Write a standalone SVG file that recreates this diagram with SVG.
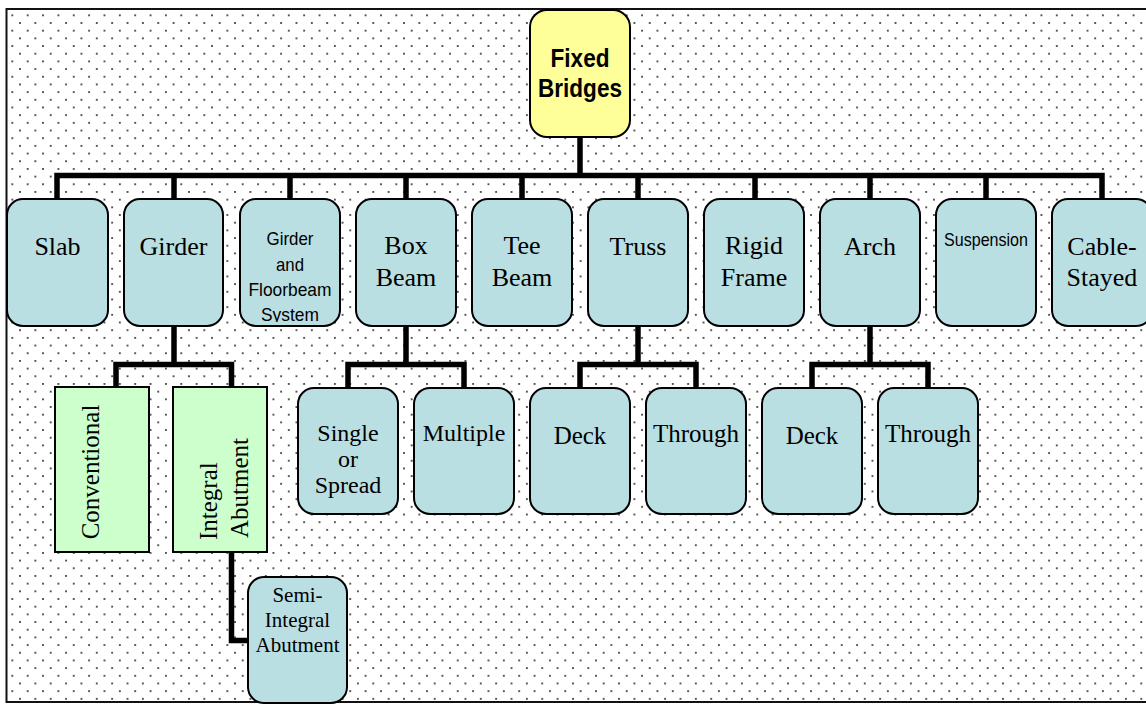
<svg xmlns="http://www.w3.org/2000/svg" width="1146" height="704" viewBox="0 0 1146 704">
<style>
.conn{fill:none;stroke:#000;stroke-width:5.5;stroke-linejoin:miter;stroke-linecap:butt}
.blue{fill:#BADFE3;stroke:#000;stroke-width:2}
.green{fill:#CCFFCC;stroke:#000;stroke-width:2}
.yellow{fill:#FFFF99;stroke:#000;stroke-width:2}
.serif{font-family:"Liberation Serif","Times New Roman",serif;fill:#000;text-anchor:middle}
.sans{font-family:"Liberation Sans",Arial,sans-serif;fill:#000;text-anchor:middle}
.t26{font-size:26px}
.t25{font-size:25px}
.t24{font-size:24px}
.t21{font-size:21px}
.n19{font-size:19px}
</style>
<defs>
<pattern id="dots" patternUnits="userSpaceOnUse" x="16.16" y="19.16" width="15.36" height="15.36">
<circle cx="3.84" cy="3.84" r="0.85" fill="#000"/>
<circle cx="11.52" cy="11.52" r="0.85" fill="#000"/>
</pattern>
<clipPath id="gfsclip"><rect x="240" y="199" width="100" height="123"/></clipPath>
</defs>
<rect x="0" y="0" width="1146" height="704" fill="#fff"/>
<rect x="6.5" y="9" width="1145" height="693" fill="url(#dots)" stroke="#111" stroke-width="2"/>

<g id="connectors">
<path class="conn" d="M580,137 V175.5"/>
<path class="conn" d="M57,199 V175.5 H1102 V199"/>
<path class="conn" d="M174,175.5 V199 M290,175.5 V199 M406,175.5 V199 M522,175.5 V199 M638,175.5 V199 M755,175.5 V199 M870,175.5 V199 M986,175.5 V199"/>
<path class="conn" d="M174,326 V364.5"/>
<path class="conn" d="M116,387 V364.5 H231.5 V387"/>
<path class="conn" d="M231.5,552 V640.5 H248"/>
<path class="conn" d="M406,326 V364.5"/>
<path class="conn" d="M348,388 V364.5 H464 V388"/>
<path class="conn" d="M638,326 V364.5"/>
<path class="conn" d="M580,388 V364.5 H696 V388"/>
<path class="conn" d="M870,326 V364.5"/>
<path class="conn" d="M812,388 V364.5 H928 V388"/>
</g>

<g id="fixed-bridges">
<rect class="yellow" x="530" y="10" width="100" height="127" rx="17"/>
<text class="sans" font-weight="bold" font-size="26" x="580" y="66.5" textLength="59" lengthAdjust="spacingAndGlyphs">Fixed</text>
<text class="sans" font-weight="bold" font-size="26" x="580" y="96.5" textLength="84" lengthAdjust="spacingAndGlyphs">Bridges</text>
</g>

<g id="slab">
<rect class="blue" x="7" y="199" width="101" height="127" rx="16"/>
<text class="serif t26" x="57.5" y="255">Slab</text>
</g>
<g id="girder">
<rect class="blue" x="124" y="199" width="99" height="127" rx="16"/>
<text class="serif t26" x="173.5" y="255">Girder</text>
</g>
<g id="girder-floorbeam">
<rect class="blue" x="240" y="199" width="100" height="127" rx="16"/>
<g clip-path="url(#gfsclip)">
<text class="sans n19" x="290" y="245" textLength="47" lengthAdjust="spacingAndGlyphs">Girder</text>
<text class="sans n19" x="290" y="271" textLength="28" lengthAdjust="spacingAndGlyphs">and</text>
<text class="sans n19" x="290" y="296" textLength="83" lengthAdjust="spacingAndGlyphs">Floorbeam</text>
<text class="sans n19" x="290" y="321" textLength="58" lengthAdjust="spacingAndGlyphs">System</text>
</g>
</g>
<g id="box-beam">
<rect class="blue" x="356" y="199" width="100" height="127" rx="16"/>
<text class="serif t26" x="406" y="254">Box</text>
<text class="serif t26" x="406" y="285.5">Beam</text>
</g>
<g id="tee-beam">
<rect class="blue" x="472" y="199" width="100" height="127" rx="16"/>
<text class="serif t26" x="522" y="254">Tee</text>
<text class="serif t26" x="522" y="285.5">Beam</text>
</g>
<g id="truss">
<rect class="blue" x="588" y="199" width="100" height="127" rx="16"/>
<text class="serif t26" x="638" y="255">Truss</text>
</g>
<g id="rigid-frame">
<rect class="blue" x="704" y="199" width="100" height="127" rx="16"/>
<text class="serif t26" x="754" y="254">Rigid</text>
<text class="serif t26" x="754" y="285.5">Frame</text>
</g>
<g id="arch">
<rect class="blue" x="820" y="199" width="100" height="127" rx="16"/>
<text class="serif t26" x="870" y="255">Arch</text>
</g>
<g id="suspension">
<rect class="blue" x="936" y="199" width="100" height="127" rx="16"/>
<text class="sans n19" x="986" y="246" textLength="84" lengthAdjust="spacingAndGlyphs">Suspension</text>
</g>
<g id="cable-stayed">
<rect class="blue" x="1052" y="199" width="100" height="127" rx="16"/>
<text class="serif t26" x="1102" y="255">Cable-</text>
<text class="serif t26" x="1102" y="285.5">Stayed</text>
</g>

<g id="conventional">
<rect class="green" x="55" y="387" width="94" height="165"/>
<text class="serif t25" transform="translate(99,472) rotate(-90)">Conventional</text>
</g>
<g id="integral-abutment">
<rect class="green" x="173" y="387" width="94" height="165"/>
<text class="serif t25" style="text-anchor:start" transform="translate(217,540) rotate(-90)">Integral</text>
<text class="serif t25" style="text-anchor:start" transform="translate(248,538) rotate(-90)">Abutment</text>
</g>
<g id="semi-integral">
<rect class="blue" x="248" y="577" width="99" height="126" rx="16"/>
<text class="serif t21" x="297.5" y="601.5">Semi-</text>
<text class="serif t21" x="297.5" y="626.5">Integral</text>
<text class="serif t21" x="297.5" y="651.5">Abutment</text>
</g>

<g id="single-spread">
<rect class="blue" x="298" y="388" width="100" height="126" rx="16"/>
<text class="serif t24" x="348" y="440.5">Single</text>
<text class="serif t24" x="348" y="466.5">or</text>
<text class="serif t24" x="348" y="493">Spread</text>
</g>
<g id="multiple">
<rect class="blue" x="414" y="388" width="100" height="126" rx="16"/>
<text class="serif t24" x="464" y="440.5">Multiple</text>
</g>
<g id="truss-deck">
<rect class="blue" x="530" y="388" width="100" height="126" rx="16"/>
<text class="serif t25" x="580" y="444">Deck</text>
</g>
<g id="truss-through">
<rect class="blue" x="646" y="388" width="100" height="126" rx="16"/>
<text class="serif t25" x="696" y="441.5">Through</text>
</g>
<g id="arch-deck">
<rect class="blue" x="762" y="388" width="100" height="126" rx="16"/>
<text class="serif t25" x="812" y="443.5">Deck</text>
</g>
<g id="arch-through">
<rect class="blue" x="878" y="388" width="100" height="126" rx="16"/>
<text class="serif t25" x="928" y="441.5">Through</text>
</g>
</svg>
